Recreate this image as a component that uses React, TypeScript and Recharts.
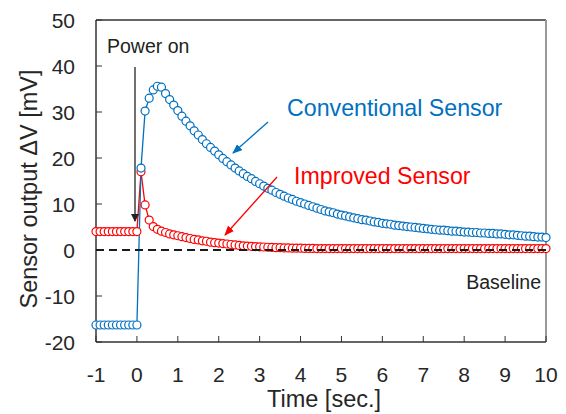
import { LineChart, Line, XAxis, YAxis, ReferenceLine } from 'recharts';

const times = [
  -1, -0.9, -0.8, -0.7, -0.6, -0.5, -0.4, -0.3, -0.2, -0.1, 0,
  0.1, 0.2, 0.3, 0.4, 0.5, 0.6, 0.7, 0.8, 0.9, 1,
  1.1, 1.2, 1.3, 1.4, 1.5, 1.6, 1.7, 1.8, 1.9, 2,
  2.1, 2.2, 2.3, 2.4, 2.5, 2.6, 2.7, 2.8, 2.9, 3,
  3.1, 3.2, 3.3, 3.4, 3.5, 3.6, 3.7, 3.8, 3.9, 4,
  4.1, 4.2, 4.3, 4.4, 4.5, 4.6, 4.7, 4.8, 4.9, 5,
  5.1, 5.2, 5.3, 5.4, 5.5, 5.6, 5.7, 5.8, 5.9, 6,
  6.1, 6.2, 6.3, 6.4, 6.5, 6.6, 6.7, 6.8, 6.9, 7,
  7.1, 7.2, 7.3, 7.4, 7.5, 7.6, 7.7, 7.8, 7.9, 8,
  8.1, 8.2, 8.3, 8.4, 8.5, 8.6, 8.7, 8.8, 8.9, 9,
  9.1, 9.2, 9.3, 9.4, 9.5, 9.6, 9.7, 9.8, 9.9, 10,
];

const conventional = [
  -16.3, -16.3, -16.3, -16.3, -16.3, -16.3, -16.3, -16.3, -16.3, -16.3, -16.3,
  17.8, 30.2, 33.0, 34.8, 35.6, 35.4, 34.0, 32.7, 31.5, 30.3,
  29.1, 28.0, 27.0, 25.9, 25.0, 24.0, 23.1, 22.3, 21.5, 20.7,
  19.9, 19.2, 18.5, 17.8, 17.2, 16.6, 16.0, 15.5, 14.9, 14.4,
  13.9, 13.4, 13.0, 12.5, 12.1, 11.7, 11.3, 11.0, 10.6, 10.3,
  10.0, 9.7, 9.4, 9.1, 8.8, 8.5, 8.3, 8.1, 7.8, 7.6,
  7.4, 7.2, 7.0, 6.8, 6.6, 6.5, 6.3, 6.1, 6.0, 5.8,
  5.7, 5.6, 5.4, 5.3, 5.2, 5.1, 5.0, 4.9, 4.8, 4.7,
  4.6, 4.5, 4.4, 4.3, 4.3, 4.2, 4.1, 4.1, 4.0, 3.9,
  3.9, 3.8, 3.8, 3.7, 3.7, 3.6, 3.6, 3.5, 3.5, 3.4,
  3.3, 3.3, 3.2, 3.1, 3.0, 3.0, 2.9, 2.8, 2.8, 2.7,
];

const improved = [
  4.0, 4.0, 4.0, 4.0, 4.0, 4.0, 4.0, 4.0, 4.0, 4.0, 4.0,
  17.0, 9.8, 6.5, 5.1, 4.5, 4.1, 3.8, 3.5, 3.3, 3.1,
  2.9, 2.7, 2.5, 2.3, 2.2, 2.0, 1.9, 1.7, 1.6, 1.5,
  1.4, 1.3, 1.2, 1.1, 1.0, 0.9, 0.85, 0.8, 0.75, 0.7,
  0.65, 0.6, 0.55, 0.5, 0.5, 0.45, 0.45, 0.4, 0.4, 0.4,
  0.35, 0.35, 0.35, 0.3, 0.3, 0.3, 0.3, 0.3, 0.3, 0.3,
  0.3, 0.3, 0.3, 0.3, 0.3, 0.3, 0.3, 0.3, 0.3, 0.3,
  0.3, 0.3, 0.3, 0.3, 0.3, 0.3, 0.3, 0.3, 0.3, 0.3,
  0.3, 0.3, 0.3, 0.3, 0.3, 0.3, 0.3, 0.3, 0.3, 0.3,
  0.3, 0.3, 0.3, 0.3, 0.3, 0.3, 0.3, 0.3, 0.3, 0.3,
  0.3, 0.3, 0.3, 0.3, 0.3, 0.3, 0.3, 0.3, 0.3, 0.3,
];

const xTicks = [-1, 0, 1, 2, 3, 4, 5, 6, 7, 8, 9, 10];
const yTicks = [-20, -10, 0, 10, 20, 30, 40, 50];

const BLUE = '#0070C0';
const RED = '#FF0000';
const FONT = '"Liberation Sans", Arial, sans-serif';

const data = times.map((t, i) => ({ t, conv: conventional[i], imp: improved[i] }));

const YTick = ({ x, y, payload }: any) => (
  <g>
    <line x1={x + 21} x2={x + 27} y1={y} y2={y} stroke="#333" />
    <text x={x} y={y + 7.5} textAnchor="end" fontSize={21} fill="#262626" fontFamily={FONT}>
      {payload.value}
    </text>
  </g>
);

const XTick = ({ x, y, payload }: any) => (
  <g>
    <line x1={x} x2={x} y1={y} y2={y - 6} stroke="#333" />
    <text x={x} y={y + 39.5} textAnchor="middle" fontSize={21} fill="#262626" fontFamily={FONT}>
      {payload.value}
    </text>
  </g>
);

export default function App() {
  return (
    <div style={{ position: 'absolute', left: 0, top: 0, width: 566, height: 414, background: '#fff' }}>
      <LineChart width={566} height={414} data={data} margin={{ top: 20, right: 20, bottom: 0, left: 0 }}>
        <XAxis
          dataKey="t"
          type="number"
          domain={[-1, 10]}
          ticks={xTicks}
          interval={0}
          height={72}
          tickSize={0}
          tickMargin={0}
          tick={<XTick />}
          axisLine={{ stroke: '#333', strokeWidth: 1.5 }}
        />
        <YAxis
          type="number"
          domain={[-20, 50]}
          ticks={yTicks}
          interval={0}
          width={96}
          tickSize={0}
          tickMargin={21}
          tick={<YTick />}
          axisLine={{ stroke: '#333', strokeWidth: 1.5 }}
        />
        <ReferenceLine y={50} stroke="#333" strokeWidth={1.5} />
        <ReferenceLine x={10} stroke="#999" strokeWidth={2} />
        <Line
          dataKey="imp"
          stroke={RED}
          strokeWidth={1.3}
          dot={{ r: 4, fill: '#fff', stroke: RED, strokeWidth: 1.2 }}
          isAnimationActive={false}
        />
        <Line
          dataKey="conv"
          stroke={BLUE}
          strokeWidth={1.3}
          dot={{ r: 4, fill: '#fff', stroke: BLUE, strokeWidth: 1.2 }}
          isAnimationActive={false}
        />
      </LineChart>
      <svg width={566} height={414} style={{ position: 'absolute', left: 0, top: 0, pointerEvents: 'none' }}>
        <defs>
          <marker id="hBlack" markerWidth="8" markerHeight="8" refX="7" refY="4" orient="auto" markerUnits="userSpaceOnUse">
            <path d="M0,0 L8,4 L0,8 z" fill="#222" />
          </marker>
          <marker id="hBlue" markerWidth="10" markerHeight="8" refX="9" refY="4" orient="auto" markerUnits="userSpaceOnUse">
            <path d="M0,0 L10,4 L0,8 z" fill={BLUE} />
          </marker>
          <marker id="hRed" markerWidth="10" markerHeight="8" refX="9" refY="4" orient="auto" markerUnits="userSpaceOnUse">
            <path d="M0,0 L10,4 L0,8 z" fill={RED} />
          </marker>
        </defs>
        {/* baseline, drawn above the markers like the original */}
        <line x1={96} y1={250} x2={546} y2={250} stroke="#1a1a1a" strokeWidth={2} strokeDasharray="8 5" />
        <line x1={135} y1={67} x2={135} y2={221} stroke="#222" strokeWidth={1.3} markerEnd="url(#hBlack)" />
        <line x1={268} y1={122} x2={233} y2={153} stroke={BLUE} strokeWidth={1.3} markerEnd="url(#hBlue)" />
        <line x1={277} y1={177} x2={225} y2={235} stroke={RED} strokeWidth={1.3} markerEnd="url(#hRed)" />
        <text x={107} y={53} fontSize={19.5} fill="#222" fontFamily={FONT}>Power on</text>
        <text x={287} y={116} fontSize={23.2} fill={BLUE} fontFamily={FONT}>Conventional Sensor</text>
        <text x={294} y={184} fontSize={23.2} fill={RED} fontFamily={FONT}>Improved Sensor</text>
        <text x={541} y={289} fontSize={19.5} fill="#222" textAnchor="end" fontFamily={FONT}>Baseline</text>
        <text x={324} y={407} fontSize={23.5} fill="#262626" textAnchor="middle" fontFamily={FONT}>Time [sec.]</text>
        <text
          x={0}
          y={0}
          fontSize={23.5}
          fill="#262626"
          textAnchor="middle"
          fontFamily={FONT}
          transform="translate(37,189) rotate(-90)"
        >
          Sensor output ΔV [mV]
        </text>
      </svg>
    </div>
  );
}
